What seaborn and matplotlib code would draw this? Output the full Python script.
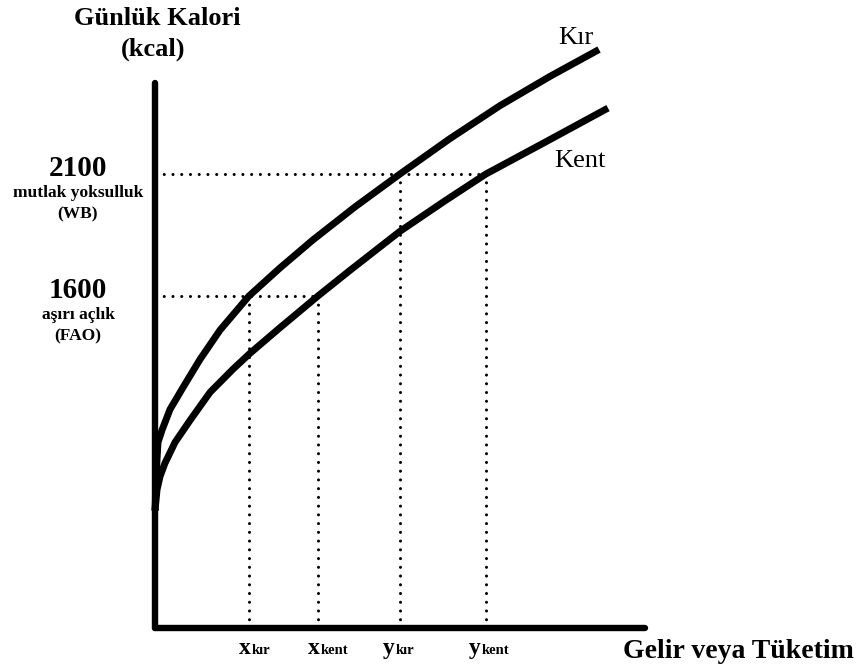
import numpy as np
import pandas as pd
import matplotlib
matplotlib.use("Agg")
import matplotlib.pyplot as plt
import seaborn as sns

# curves (income units, kcal)
kir_x = [0, 2, 3, 7, 15, 28, 45, 65, 94, 125, 158, 200, 245, 295, 345, 395, 444]
kir_y = [720, 930, 1000, 1050, 1135, 1225, 1340, 1460, 1600, 1715, 1830, 1965, 2100, 2245, 2380, 2500, 2610]
kent_x = [0, 2, 5, 10, 20, 35, 55, 78, 95, 125, 163, 195, 245, 290, 331, 390, 453]
kent_y = [720, 805, 860, 915, 1000, 1090, 1205, 1300, 1365, 1470, 1600, 1705, 1865, 1990, 2100, 2230, 2370]

thresholds = [1600, 2100]
threshold_names = ["1600", "2100"]
threshold_notes = [["aşırı açlık", "(FAO)"], ["mutlak yoksulluk", "(WB)"]]
# income where each curve reaches the thresholds
kir_cross = [94, 245]
kent_cross = [163, 331]
tick_main = ["x", "x", "y", "y"]
tick_sub = ["kır", "kent", "kır", "kent"]

y_floor, y_top = 240, 2473
x_end = 490

sns.set_style("white")
plt.rcParams["font.family"] = ["Liberation Serif", "DejaVu Serif"]
plt.rcParams["text.color"] = "black"

fig = plt.figure(figsize=(8.6, 6.7), dpi=100)
ax = fig.add_axes([0, 0, 1, 1])
ax.set_xlim(-155, 705)
ax.set_ylim(67, 2813)

df = pd.concat([
    pd.DataFrame({"gelir": kir_x, "kalori": kir_y, "bolge": "Kır"}),
    pd.DataFrame({"gelir": kent_x, "kalori": kent_y, "bolge": "Kent"}),
])
sns.lineplot(data=df, x="gelir", y="kalori", units="bolge", estimator=None,
             sort=False, color="black", lw=5, ax=ax, legend=False)
for ln in ax.lines:
    ln.set_solid_capstyle("butt")
    ln.set_solid_joinstyle("round")

# axes as thick spines
for side in ["top", "right"]:
    ax.spines[side].set_visible(False)
ax.spines["left"].set_position(("data", 0))
ax.spines["bottom"].set_position(("data", y_floor))
ax.spines["left"].set_bounds(y_floor, y_top)
ax.spines["bottom"].set_bounds(0, x_end)
for side in ["left", "bottom"]:
    ax.spines[side].set_linewidth(4.6)
    ax.spines[side].set_color("black")
    ax.spines[side].set_capstyle("round")
ax.set_xticks([])
ax.set_yticks([])
ax.set_xlabel("")
ax.set_ylabel("")

dot = dict(color="black", lw=2.2, linestyle=(0, (0.01, 2.85)), dash_capstyle="round")
for t, xk, xc in zip(thresholds, kir_cross, kent_cross):
    ax.plot([0, xc], [t, t], **dot)
    ax.plot([xk, xk], [y_floor, t], **dot)
    ax.plot([xc, xc], [y_floor, t], **dot)

# threshold labels on the left
for t, name, note in zip(thresholds, threshold_names, threshold_notes):
    ax.annotate(name, (0, t), xytext=(-77, -2), textcoords="offset pixels",
                ha="center", va="baseline", fontsize=21, fontweight="bold")
    for i, line in enumerate(note):
        ax.annotate(line, (0, t), xytext=(-77, -23 - 21 * i), textcoords="offset pixels",
                    ha="center", va="baseline", fontsize=12.5, fontweight="bold")

# labels under the x axis
positions = [kir_cross[0], kent_cross[0], kir_cross[1], kent_cross[1]]
for xv, m, s in zip(positions, tick_main, tick_sub):
    shift = 2 if m == "x" else -5
    ax.annotate(m, (xv, y_floor), xytext=(shift, -26), textcoords="offset pixels",
                ha="right", va="baseline", fontsize=17, fontweight="bold")
    ax.annotate(s, (xv, y_floor), xytext=(shift + 1, -26), textcoords="offset pixels",
                ha="left", va="baseline", fontsize=10.5, fontweight="bold")

ax.text(kir_x[-1] - 23, kir_y[-1] + 23, "Kır", ha="center", va="baseline", fontsize=19)
ax.text(kent_x[-1] - 28, kent_y[-1] - 241, "Kent", ha="center", va="baseline", fontsize=19)

ax.annotate("Günlük Kalori", (0, y_top), xytext=(2, 58), textcoords="offset pixels",
            ha="center", va="baseline", fontsize=19, fontweight="bold")
ax.annotate("(kcal)", (0, y_top), xytext=(-2, 27), textcoords="offset pixels",
            ha="center", va="baseline", fontsize=19, fontweight="bold")
ax.annotate("Gelir veya Tüketim", (x_end, y_floor), xytext=(93, -30), textcoords="offset pixels",
            ha="center", va="baseline", fontsize=20, fontweight="bold")

fig.savefig("out.png", dpi=100)
